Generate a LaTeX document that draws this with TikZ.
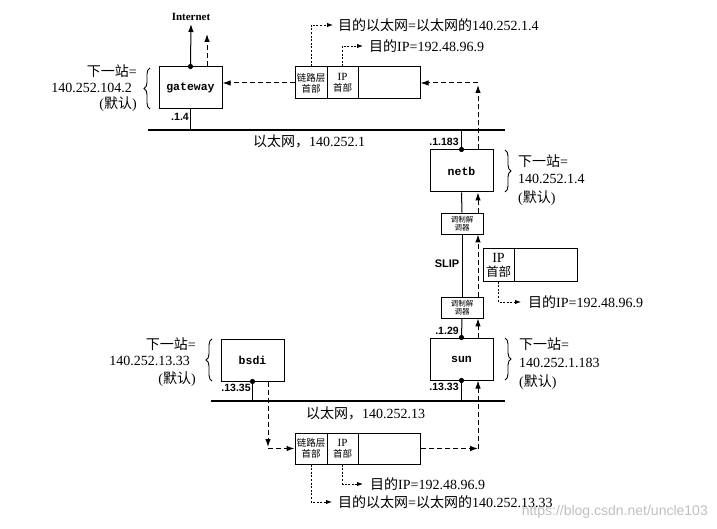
\documentclass[tikz,border=0pt]{standalone}
\usepackage{fontspec}
\setmainfont{Liberation Serif}
\newfontfamily\cjkf{Noto Sans CJK SC}
\newfontfamily\monof{Liberation Mono}
\newfontfamily\sansf{Liberation Sans}
\usetikzlibrary{arrows.meta,decorations.pathreplacing}
\newcommand\zh[1]{{\cjkf #1}}
\begin{document}
\begin{tikzpicture}[x=1pt,y=-1pt,
 host/.style={draw,line width=1pt,minimum width=63pt,minimum height=42pt,inner sep=0pt,font=\monof\bfseries\fontsize{11.5}{12}\selectfont},
 cellbox/.style={draw,line width=1pt,inner sep=0pt,align=center,font=\cjkf\fontsize{9.5}{11}\selectfont},
 modem/.style={draw,line width=0.9pt,minimum width=42pt,minimum height=21pt,inner sep=0pt,align=center,font=\cjkf\fontsize{7.5}{8.5}\selectfont},
 lbl/.style={inner sep=0pt,font=\fontsize{14}{16}\selectfont},
 iflbl/.style={inner sep=0pt,font=\sansf\bfseries\fontsize{10.5}{11}\selectfont},
 wire/.style={line width=1pt},
 dash arrow/.style={line width=1pt,dash pattern=on 5pt off 3pt,-{Latex[length=8pt,width=5.5pt]}},
 dot arrow/.style={line width=0.9pt,dash pattern=on 2pt off 1.6pt,-{Latex[length=6pt,width=4.5pt]}},
 ether/.style={line width=2.6pt},
 brc/.style={decorate,decoration={brace,amplitude=6pt},line width=0.9pt}
]
\useasboundingbox (0,0) rectangle (717,529);

% ethernets
\coordinate (e1a) at (148,130);
\coordinate (e1b) at (505,130);
\coordinate (e2a) at (211,401);
\coordinate (e2b) at (505,401);
\draw[ether] (e1a) -- (e1b);
\draw[ether] (e2a) -- (e2b);
\node[lbl,anchor=west] (eth1) at (253,141) {\zh{以太网，}140.252.1};
\node[lbl,anchor=west] (eth2) at (306,413) {\zh{以太网，}140.252.13};

\coordinate (dx) at (478,0);

% gateway
\node[host] (gw) at (190.5,88) {gateway};
\node[inner sep=0pt,font=\bfseries\fontsize{11}{12}\selectfont] (inet) at (191,17) {Internet};
\coordinate (inetA) at (191,24);
\coordinate (gwup) at (207,34);
\draw[wire,-{Latex[length=8pt,width=5.5pt]}] (gw.north) -- (inetA);
\draw[dash arrow] (gw.north -| gwup) -- (gwup);
\fill (gw.north) circle (2.6pt);
\draw[wire] (gw.south) -- (gw.south |- e1a);
\node[iflbl] (if14) at (180,117) {.1.4};
\draw[brc] (150,109) -- (150,68);
\node[lbl,anchor=east] (g1) at (137,71) {\zh{下一站}=};
\node[lbl,anchor=east] (g2) at (132,88) {140.252.104.2};
\node[lbl,anchor=east] (g3) at (137,104) {(\zh{默认})};

% top packet
\node[cellbox,minimum width=32pt,minimum height=32pt] (l1) at (311,83) {链路层\\首部};
\node[cellbox,minimum width=31pt,minimum height=32pt] (i1) at (342.5,83) {{\rmfamily\fontsize{11}{11}\selectfont IP}\\首部};
\node[cellbox,minimum width=62pt,minimum height=32pt] (d1) at (389,83) {};
\node[lbl,anchor=west] (tt1) at (338,25) {\zh{目的以太网}=\zh{以太网的}140.252.1.4};
\node[lbl,anchor=west] (tt2) at (369,46) {\zh{目的}IP=192.48.96.9};
\draw[dot arrow] (l1.north) |- ([xshift=-5pt]tt1.west);
\draw[dot arrow] (i1.north) |- ([xshift=-6pt]tt2.west);
\draw[dash arrow] (l1.west) -- (l1.west -| gw.east);

% netb
\node[host] (netb) at (461.5,171) {netb};
\draw[wire] (netb.north) -- (netb.north |- e1a);
\fill (netb.north) circle (2.6pt);
\node[iflbl] (if1183) at (444,142) {.1.183};
\coordinate (nu) at (478,85);
\coordinate (nc) at (478,83);
\draw[dash arrow] (netb.north -| dx) -- (nu);
\draw[dash arrow] (nc) -- (d1.east);
\draw[brc] (505,150) -- (505,192);
\node[lbl,anchor=west] (n1) at (518,161) {\zh{下一站}=};
\node[lbl,anchor=west] (n2) at (518,179) {140.252.1.4};
\node[lbl,anchor=west] (n3) at (518,198) {(\zh{默认})};

% modems
\node[modem] (m1) at (462,223.5) {调制解\\调器};
\node[modem] (m2) at (462,307.5) {调制解\\调器};
\node[inner sep=0pt,font=\sansf\bfseries\fontsize{11}{12}\selectfont] (slip) at (447,264) {SLIP};

% sun
\node[host] (sun) at (461.5,359) {sun};
\draw[wire] (netb.south) -- (m1.north);
\draw[wire] (m1.south) -- (m2.north);
\draw[wire] (m2.south) -- (sun.north);
\draw[wire] (sun.south) -- (sun.south |- e2a);
\fill (sun.north) circle (2.6pt);
\fill (sun.south) circle (2.6pt);
\node[iflbl] (if129) at (447,331) {.1.29};
\node[iflbl] (if1333) at (444,387) {.13.33};
\draw[dash arrow] (m1.north -| dx) -- (netb.south -| dx);
\draw[dash arrow] (m2.north -| dx) -- (m1.south -| dx);
\draw[dash arrow] (sun.north -| dx) -- (m2.south -| dx);
\draw[brc] (505,338) -- (505,380);
\node[lbl,anchor=west] (s1) at (519,344) {\zh{下一站}=};
\node[lbl,anchor=west] (s2) at (519,363) {140.252.1.183};
\node[lbl,anchor=west] (s3) at (519,382) {(\zh{默认})};

% SLIP packet
\node[cellbox,minimum width=31pt,minimum height=32pt,font=\cjkf\fontsize{12.5}{14}\selectfont] (i2) at (498.5,265) {{\rmfamily\fontsize{14}{14}\selectfont IP}\\首部};
\node[cellbox,minimum width=63pt,minimum height=32pt] (d2) at (545.5,265) {};
\node[lbl,anchor=west] (st) at (528,302) {\zh{目的}IP=192.48.96.9};
\draw[dot arrow] (i2.south) |- ([xshift=-7pt]st.west);

% bsdi
\node[host] (bsdi) at (252.5,360) {bsdi};
\draw[wire] (bsdi.south) -- (bsdi.south |- e2a);
\fill (bsdi.south) circle (2.6pt);
\node[iflbl] (if1335) at (236,388) {.13.35};
\draw[brc] (212,381) -- (212,339);
\node[lbl,anchor=east] (b1) at (196,344) {\zh{下一站}=};
\node[lbl,anchor=east] (b2) at (190,361) {140.252.13.33};
\node[lbl,anchor=east] (b3) at (196,379) {(\zh{默认})};

% bottom packet
\node[cellbox,minimum width=32pt,minimum height=31pt] (l3) at (311,448.5) {链路层\\首部};
\node[cellbox,minimum width=31pt,minimum height=31pt] (i3) at (342.5,448.5) {{\rmfamily\fontsize{11}{11}\selectfont IP}\\首部};
\node[cellbox,minimum width=62pt,minimum height=31pt] (d3) at (389,448.5) {};
\coordinate (bd) at (268,447);
\coordinate (bc) at (268,448.5);
\draw[dash arrow] (bsdi.south -| bd) -- (bd);
\draw[dash arrow] (bc) -- (l3.west);
\coordinate (sc) at (478,448.5);
\draw[dash arrow] (d3.east) -- (sc);
\draw[dash arrow] (sc) -- (sun.south -| dx);
\node[lbl,anchor=west] (tb1) at (370,484) {\zh{目的}IP=192.48.96.9};
\node[lbl,anchor=west] (tb2) at (338,502) {\zh{目的以太网}=\zh{以太网的}140.252.13.33};
\draw[dot arrow] (i3.south) |- ([xshift=-7pt]tb1.west);
\draw[dot arrow] (l3.south) |- ([xshift=-6pt]tb2.west);

% watermark
\node[inner sep=0pt,anchor=east,text=black!25,font=\sansf\fontsize{14}{16}\selectfont] (wm) at (708,512) {https://blog.csdn.net/uncle103};
\end{tikzpicture}
\end{document}
